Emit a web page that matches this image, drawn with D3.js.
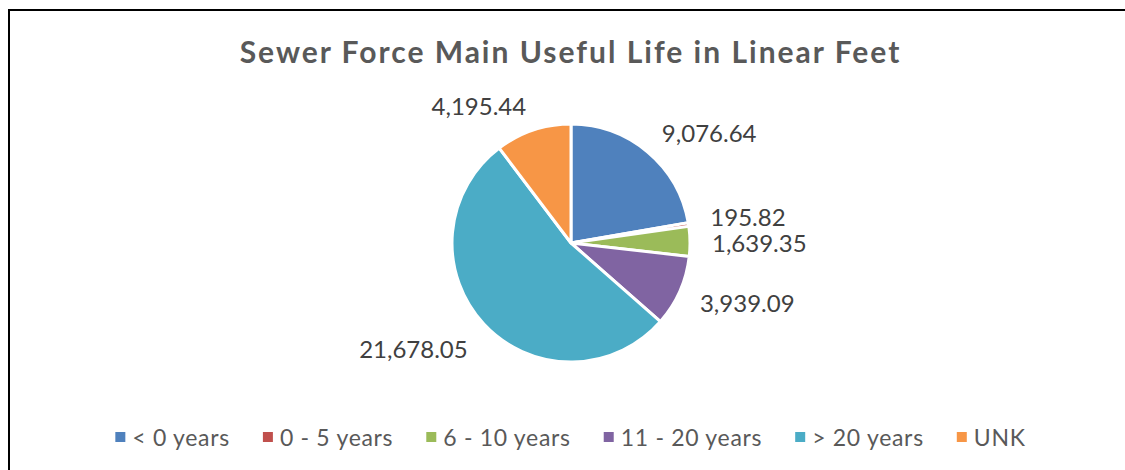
<!DOCTYPE html>
<html>
<head>
<meta charset="utf-8">
<script src="https://cdn.jsdelivr.net/npm/d3@7"></script>
<style>
  body { margin: 0; background: #fff; }
  text { font-family: Lato, "Open Sans", sans-serif; }
</style>
</head>
<body>
<svg id="chart" width="1125" height="470"></svg>
<script>
var categories = ["< 0 years", "0 - 5 years", "6 - 10 years", "11 - 20 years", "> 20 years", "UNK"];
var values = [9076.64, 195.82, 1639.35, 3939.09, 21678.05, 4195.44];
var colors = ["#4F81BD", "#C0504D", "#9BBB59", "#8064A2", "#4BACC6", "#F79646"];
var title = "Sewer Force Main Useful Life in Linear Feet";

var width = 1125, height = 470;
var cx = 571, cy = 243, radius = 119;

var svg = d3.select("#chart");

// chart frame (only left and top edges fall inside the picture)
svg.append("rect")
    .attr("x", 9).attr("y", 10)
    .attr("width", 1200).attr("height", 600)
    .attr("fill", "none")
    .attr("stroke", "#000")
    .attr("stroke-width", 2);

svg.append("text")
    .attr("x", width / 2 + 8)
    .attr("y", 63)
    .attr("text-anchor", "middle")
    .attr("font-size", 30)
    .attr("font-weight", "bold")
    .attr("letter-spacing", 2)
    .attr("fill", "#595959")
    .text(title);

var data = categories.map(function(c, i) { return {name: c, value: values[i], color: colors[i]}; });

var pie = d3.pie().sort(null).value(function(d) { return d.value; });
var arcs = pie(data);

var arc = d3.arc().innerRadius(0).outerRadius(radius);
var labelArc = d3.arc().innerRadius(radius + 22).outerRadius(radius + 22);

var g = svg.append("g").attr("transform", "translate(" + cx + "," + cy + ")");

g.selectAll("path")
    .data(arcs)
    .enter()
    .append("path")
    .attr("d", arc)
    .attr("fill", function(d) { return d.data.color; })
    .attr("stroke", "#fff")
    .attr("stroke-width", 3)
    .attr("stroke-linejoin", "round");

var fmt = d3.format(",.2f");

g.selectAll(".label")
    .data(arcs)
    .enter()
    .append("text")
    .attr("class", "label")
    .attr("transform", function(d) {
        var c = labelArc.centroid(d);
        var mid = (d.startAngle + d.endAngle) / 2;
        var k = Math.cos(mid) > 0 ? 4 : (mid > Math.PI ? 14 : 6);
        var dy = -Math.cos(mid) * k;
        // small slice labels are pushed apart
        if (d.index == 1) dy -= 4;
        if (d.index == 2) dy += 1;
        return "translate(" + c[0] + "," + (c[1] + dy) + ")";
    })
    .attr("text-anchor", function(d) {
        return (d.startAngle + d.endAngle) / 2 < Math.PI ? "start" : "end";
    })
    .attr("dominant-baseline", "central")
    .attr("font-size", 24)
    .attr("fill", "#404040")
    .text(function(d) { return fmt(d.data.value); });

// legend
var legend = svg.append("g");
var x = 0;
var items = legend.selectAll(".item")
    .data(data)
    .enter()
    .append("g")
    .attr("class", "item");

items.append("rect")
    .attr("y", -5)
    .attr("width", 10)
    .attr("height", 10)
    .attr("fill", function(d) { return d.color; });

items.append("text")
    .attr("x", 17)
    .attr("dominant-baseline", "central")
    .attr("font-size", 23)
    .attr("letter-spacing", 0.7)
    .attr("fill", "#595959")
    .text(function(d) { return d.name; });

items.each(function() {
    var w = this.getBBox().width;
    d3.select(this).attr("transform", "translate(" + x + ",0)");
    x += w + 33;
});
var total = x - 33;
legend.attr("transform", "translate(" + ((width - total) / 2 + 8) + ",437)");
</script>
</body>
</html>
